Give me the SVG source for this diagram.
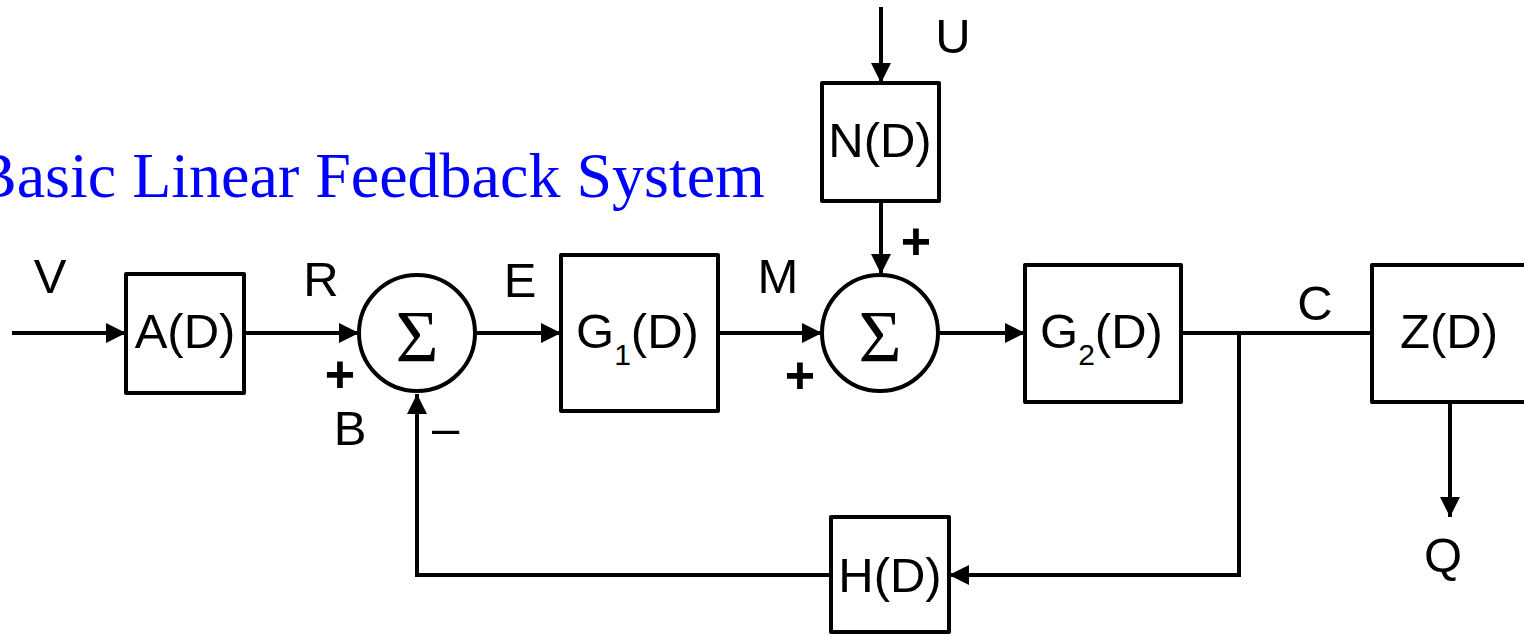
<svg xmlns="http://www.w3.org/2000/svg" width="1524" height="634" viewBox="0 0 1524 634">
<defs>
<marker id="arr" markerUnits="userSpaceOnUse" markerWidth="20" markerHeight="20" viewBox="0 0 18 18" refX="18" refY="9" orient="auto">
<path d="M0,0 L18,9 L0,18 Z" fill="#000"/>
</marker>
</defs>
<style>
.box{fill:#fff;stroke:#000;stroke-width:4;stroke-linejoin:round}
.sum{fill:#fff;stroke:#000;stroke-width:4}
.ln{fill:none;stroke:#000;stroke-width:4;stroke-linejoin:miter}
.t{font-family:"Liberation Sans",Arial,sans-serif;font-size:49px;fill:#000}
.sub{font-size:30px}
.sig{font-family:"Liberation Serif","Times New Roman",serif;font-size:74px;fill:#000}
.pl{font-family:"Liberation Sans",Arial,sans-serif;font-size:52px;font-weight:bold;fill:#000}
.title{font-family:"Liberation Serif","Times New Roman",serif;font-size:64px;fill:#0000FF}
</style>
<rect width="1524" height="634" fill="#fff"/>
<text class="title" x="-26" y="197">Basic Linear Feedback System</text>
<g id="connectors">
<path class="ln" d="M12,333 H126" marker-end="url(#arr)"/>
<path class="ln" d="M244,333 H359" marker-end="url(#arr)"/>
<path class="ln" d="M476,333 H561" marker-end="url(#arr)"/>
<path class="ln" d="M718,333 H822" marker-end="url(#arr)"/>
<path class="ln" d="M938,333 H1025" marker-end="url(#arr)"/>
<path class="ln" d="M1181,333 H1372"/>
<path class="ln" d="M881,7 V83" marker-end="url(#arr)"/>
<path class="ln" d="M881,201 V274" marker-end="url(#arr)"/>
<path class="ln" d="M1450,402 V517" marker-end="url(#arr)"/>
<path class="ln" d="M1239,333 V575 H949" marker-end="url(#arr)"/>
<path class="ln" d="M831,575 H417 V394" marker-end="url(#arr)"/>
</g>
<g id="A">
<rect class="box" x="126" y="274" width="118" height="119"/>
<text class="t" x="185" y="348" text-anchor="middle">A(D)</text>
</g>
<g id="sum1">
<circle class="sum" cx="417" cy="333" r="58"/>
<text class="sig" x="417" y="362" text-anchor="middle">Σ</text>
</g>
<g id="G1">
<rect class="box" x="561" y="255" width="157" height="156"/>
<text class="t" x="576" y="348">G<tspan class="sub" dy="17">1</tspan><tspan dy="-17">(D)</tspan></text>
</g>
<g id="sum2">
<circle class="sum" cx="880" cy="333" r="58"/>
<text class="sig" x="880" y="362" text-anchor="middle">Σ</text>
</g>
<g id="N">
<rect class="box" x="822" y="83" width="117" height="118"/>
<text class="t" x="880" y="157" text-anchor="middle">N(D)</text>
</g>
<g id="G2">
<rect class="box" x="1025" y="265" width="156" height="137"/>
<text class="t" x="1040" y="348">G<tspan class="sub" dy="17">2</tspan><tspan dy="-17">(D)</tspan></text>
</g>
<g id="Z">
<rect class="box" x="1372" y="265" width="170" height="137"/>
<text class="t" x="1400" y="348">Z(D)</text>
</g>
<g id="H">
<rect class="box" x="831" y="517" width="118" height="115"/>
<text class="t" x="890" y="592" text-anchor="middle">H(D)</text>
</g>
<g id="labels">
<text class="t" x="50" y="293" text-anchor="middle">V</text>
<text class="t" x="321" y="296" text-anchor="middle">R</text>
<text class="t" x="520" y="297" text-anchor="middle">E</text>
<text class="t" x="778" y="293" text-anchor="middle">M</text>
<text class="t" x="953" y="53" text-anchor="middle">U</text>
<text class="t" x="1315" y="320" text-anchor="middle">C</text>
<text class="t" x="1443" y="572" text-anchor="middle">Q</text>
<text class="t" x="350" y="445" text-anchor="middle">B</text>
<text class="t" x="432" y="445">–</text>
<text class="pl" x="340" y="392" text-anchor="middle">+</text>
<text class="pl" x="800" y="393" text-anchor="middle">+</text>
<text class="pl" x="916" y="259" text-anchor="middle">+</text>
</g>
</svg>
